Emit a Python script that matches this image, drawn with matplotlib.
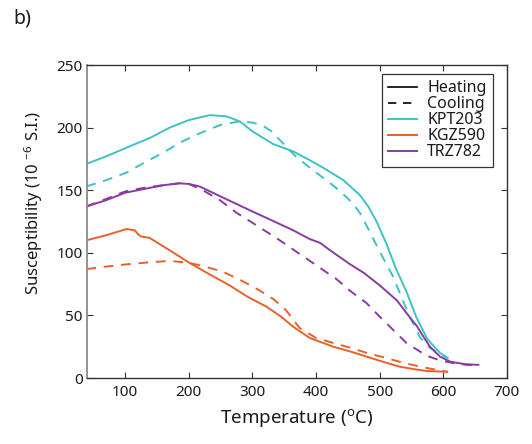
#!/usr/bin/env python3

import matplotlib
matplotlib.use("Agg")
import matplotlib.pyplot as plt
from matplotlib.lines import Line2D

plt.rcParams['font.family'] = ['Noto Sans', 'DejaVu Sans']
plt.rcParams['mathtext.default'] = 'regular'

# KPT203
kpt_heat_t = [39, 70, 107, 140, 170, 200, 233, 259, 280, 300, 332, 364, 390, 411, 443, 469, 482, 495, 510, 525, 542, 558, 575, 595, 607]
kpt_heat_v = [171, 177, 185, 192, 200, 206, 210, 209, 205, 197, 187, 181, 174, 168, 158, 146, 137, 125, 108, 88, 69, 48, 31, 20, 16]
kpt_cool_t = [39, 70, 102, 130, 160, 186, 215, 249, 280, 300, 315, 330, 347, 366, 390, 416, 436, 457, 470, 484, 500, 521, 547, 564, 579, 595, 607]
kpt_cool_v = [153, 158, 164, 172, 180, 188, 195, 202, 205, 204, 202, 197, 188, 178, 168, 158, 150, 140, 131, 117, 101, 81, 49, 32, 24, 19, 16]

# KGZ590
kgz_heat_t = [39, 70, 102, 115, 120, 125, 138, 170, 201, 232, 264, 292, 322, 345, 364, 390, 427, 455, 480, 505, 532, 555, 574, 606]
kgz_heat_v = [110, 114, 119, 118, 115, 113, 112, 102, 92, 83, 74, 65, 57, 49, 41, 32, 25, 21, 17, 13, 9, 7, 5.6, 5]
kgz_cool_t = [39, 70, 106, 140, 170, 201, 225, 253, 282, 311, 333, 353, 374, 400, 427, 455, 480, 510, 538, 574, 606]
kgz_cool_v = [87, 89, 91, 92.5, 93.5, 92, 89, 85, 78, 70, 63, 54, 40, 32, 28, 24, 20, 16, 12, 8, 5]

# TRZ782
trz_heat_t = [39, 70, 100, 130, 160, 185, 200, 217, 250, 275, 300, 330, 364, 390, 406, 422, 453, 475, 500, 527, 545, 559, 570, 579, 595, 611, 635, 655]
trz_heat_v = [137, 142, 148, 151, 154, 155.5, 155, 153, 145, 139, 133, 126, 118, 111, 108, 102, 91, 84, 74, 62, 50, 41, 32, 25, 17, 13, 11, 10.5]
trz_cool_t = [39, 70, 100, 130, 160, 185, 200, 222, 249, 275, 300, 340, 386, 432, 455, 479, 500, 516, 542, 573, 595, 615, 637, 655]
trz_cool_v = [137, 143, 149, 152, 154, 155.5, 155, 150, 142, 132, 124, 111, 95, 79, 69, 60, 49, 41, 28, 18, 14, 12, 10.5, 10.5]

samples = ["KPT203", "KGZ590", "TRZ782"]
colors = ["#3ec2c3", "#e8612c", "#8a3b9f"]


def main():
    fig = plt.figure(figsize=(5.32, 4.44), dpi=100)
    ax = fig.add_axes([0.1635, 0.1486, 0.7895, 0.705])

    curves = [
        (kpt_heat_t, kpt_heat_v, kpt_cool_t, kpt_cool_v),
        (kgz_heat_t, kgz_heat_v, kgz_cool_t, kgz_cool_v),
        (trz_heat_t, trz_heat_v, trz_cool_t, trz_cool_v),
    ]
    for (ht, hv, ct, cv), c in zip(curves, colors):
        ax.plot(ht, hv, color=c, lw=1.4)
        ax.plot(ct, cv, color=c, lw=1.4, ls=(0, (5, 4)))

    ax.set_xlim(40, 700)
    ax.set_ylim(0, 250)
    ax.set_xticks(range(100, 701, 100))
    ax.set_yticks(range(0, 251, 50))
    ax.tick_params(direction='in', top=True, right=True, length=4,
                   labelsize=11, color='#333333', labelcolor='#1a1a1a')
    ax.tick_params(axis='x', pad=5)
    ax.tick_params(axis='y', pad=3)
    for s in ax.spines.values():
        s.set_color('#333333')
        s.set_linewidth(1.0)
    ax.spines['left'].set_color('#8a8a8a')
    ax.spines['left'].set_linewidth(1.3)

    ax.set_xlabel("Temperature ($^{o}$C)", fontsize=13.5, labelpad=5, color='#1a1a1a')
    ax.set_ylabel("Susceptibility (10 $^{-6}$ S.I.)", fontsize=12, color='#1a1a1a')
    ax.yaxis.set_label_coords(-0.10, 0.56)

    handles = [Line2D([], [], color='k', lw=1.2),
               Line2D([], [], color='k', lw=1.2, ls=(0, (5, 4)))]
    handles += [Line2D([], [], color=c, lw=1.4) for c in colors]
    leg = ax.legend(handles, ["Heating", "Cooling"] + samples, loc='upper right',
                    bbox_to_anchor=(0.967, 0.971), borderaxespad=0,
                    fontsize=11.5, frameon=True, fancybox=False,
                    handlelength=1.8, labelspacing=0.0, borderpad=0.4,
                    handletextpad=0.65)
    leg.get_frame().set_edgecolor('k')
    leg.get_frame().set_linewidth(0.9)
    for t in leg.get_texts():
        t.set_color('#1a1a1a')

    fig.text(0.0245, 0.948, "b)", fontsize=14, va='baseline', color='#1a1a1a')

    fig.savefig("out.png", dpi=100)
    return 0


if __name__ == "__main__":
    main()
